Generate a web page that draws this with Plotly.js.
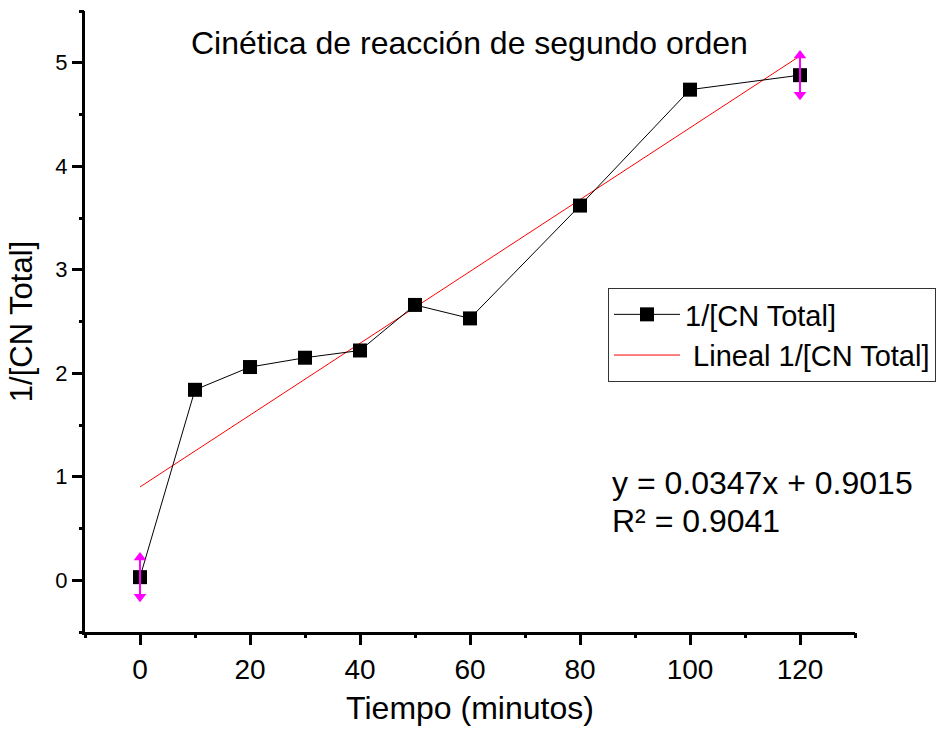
<!DOCTYPE html>
<html>
<head>
<meta charset="utf-8">
<script src="https://cdn.plot.ly/plotly-3.0.1.min.js"></script>
<style>body{margin:0;background:#fff}#chart{width:940px;height:730px}</style>
</head>
<body>
<div id="chart"></div>
<script>
const tiempo = [0, 10, 20, 30, 40, 50, 60, 80, 100, 120];
const invCN = [0.03, 1.84, 2.06, 2.15, 2.22, 2.66, 2.53, 3.62, 4.74, 4.88];
const slope = 0.0347;
const intercept = 0.9015;
const fitX = [0, 120];
const fitY = fitX.map(x => slope * x + intercept);
const markedIdx = [0, 9];
const markX = markedIdx.map(i => tiempo[i]);
const markY = markedIdx.map(i => invCN[i]);
const arrowHalf = 0.25;
const xTicks = [0, 20, 40, 60, 80, 100, 120];
const yTicks = [0, 1, 2, 3, 4, 5];
const xMinor = [-10, 10, 30, 50, 70, 90, 110, 130];
const yMinor = [-0.5, 0.5, 1.5, 2.5, 3.5, 4.5, 5.5];

const font = 'Arial, "Liberation Sans", sans-serif';

const traces = [
  {x: fitX, y: fitY, mode: 'lines', name: ' Lineal 1/[CN Total]',
   line: {color: '#ff0000', width: 1}},
  {x: tiempo, y: invCN, mode: 'lines+markers', name: '1/[CN Total]',
   line: {color: '#000', width: 1},
   marker: {symbol: 'square', size: 14, color: '#000'}},
  {x: markX, y: markY, mode: 'markers', showlegend: false, hoverinfo: 'skip',
   marker: {size: 0.1, color: '#ff00ff'},
   error_y: {type: 'constant', value: arrowHalf - 0.03, color: '#ff00ff', thickness: 2, width: 0}},
  {x: markX, y: markY.map(v => v + arrowHalf - 0.06), mode: 'markers', showlegend: false, hoverinfo: 'skip',
   marker: {symbol: 'triangle-up', size: 11, color: '#ff00ff'}},
  {x: markX, y: markY.map(v => v - arrowHalf + 0.06), mode: 'markers', showlegend: false, hoverinfo: 'skip',
   marker: {symbol: 'triangle-down', size: 11, color: '#ff00ff'}},
  {x: [null], y: [null], xaxis: 'x2', yaxis: 'y2', showlegend: false, hoverinfo: 'skip'}
];

const minorAxis = {ticks: 'outside', ticklen: 5, tickwidth: 3, tickcolor: '#000',
  showticklabels: false, showgrid: false, zeroline: false, showline: false, tickmode: 'array'};

const layout = {
  width: 940, height: 730,
  margin: {l: 85, r: 85, t: 11, b: 98, autoexpand: false},
  paper_bgcolor: '#fff', plot_bgcolor: 'rgba(0,0,0,0)',
  font: {family: font, color: '#000', size: 24},
  showlegend: true,
  legend: {x: (608 - 85) / 770, y: (629 - 285) / 621, xanchor: 'left', yanchor: 'top',
    bordercolor: '#333', borderwidth: 1, bgcolor: '#fff', itemwidth: 66,
    font: {size: 29, family: font, color: '#000'}, traceorder: 'reversed', tracegroupgap: 0},
  xaxis: {range: [-10, 130], tickmode: 'array', tickvals: xTicks, ticktext: xTicks.map(String),
    ticks: 'outside', ticklen: 10, tickwidth: 3, tickcolor: '#000',
    showline: true, linecolor: '#000', linewidth: 3, showgrid: false, zeroline: false,
    tickfont: {size: 28, family: font, color: '#000'},
    title: {text: 'Tiempo (minutos)', font: {size: 32, family: font, color: '#000'}, standoff: 14}},
  yaxis: {range: [-0.5, 5.5], tickmode: 'array', tickvals: yTicks, ticktext: yTicks.map(String),
    ticks: 'outside', ticklen: 10, tickwidth: 3, tickcolor: '#000',
    showline: true, linecolor: '#000', linewidth: 3, showgrid: false, zeroline: false,
    tickfont: {size: 22, family: font, color: '#000'},
    title: {text: '1/[CN Total]', font: {size: 31, family: font, color: '#000'}, standoff: 14}},
  xaxis2: Object.assign({}, minorAxis, {overlaying: 'x', anchor: 'y', range: [-10, 130], tickvals: xMinor}),
  yaxis2: Object.assign({}, minorAxis, {overlaying: 'y', anchor: 'x', range: [-0.5, 5.5], tickvals: yMinor}),
  annotations: [
    {text: 'Cinética de reacción de segundo orden', xref: 'paper', yref: 'paper',
     x: (469 - 85) / 770, y: (629 - 40) / 621, xanchor: 'center', yanchor: 'middle', showarrow: false, font: {size: 32}},
    {text: 'y = 0.0347x + 0.9015', xref: 'paper', yref: 'paper',
     x: (610 - 85) / 770, y: (629 - 480) / 621, xanchor: 'left', yanchor: 'middle', align: 'left', showarrow: false, font: {size: 32}},
    {text: 'R² = 0.9041', xref: 'paper', yref: 'paper',
     x: (610 - 85) / 770, y: (629 - 518) / 621, xanchor: 'left', yanchor: 'middle', align: 'left', showarrow: false, font: {size: 32}}
  ]
};

Plotly.newPlot('chart', traces, layout, {displayModeBar: false, staticPlot: true});
</script>
</body>
</html>
